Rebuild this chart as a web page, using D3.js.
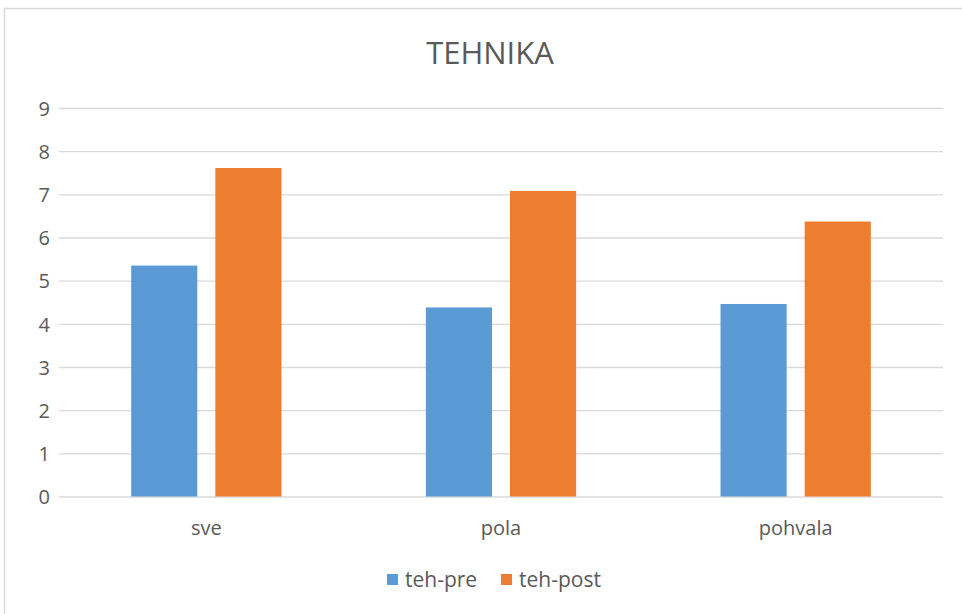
<!DOCTYPE html>
<html>
<head>
<meta charset="utf-8">
<script src="https://cdn.jsdelivr.net/npm/d3@7"></script>
<style>
  body { margin: 0; background: #fff; }
  svg text { font-family: "Open Sans", sans-serif; fill: #595959; }
</style>
</head>
<body>
<main></main>
<script>
const w = 962;
const h = 614;

const categories = ["sve", "pola", "pohvala"];
const series = ["teh-pre", "teh-post"];
const tehPre = [5.35, 4.38, 4.46];
const tehPost = [7.61, 7.08, 6.37];
const yTicks = [0, 1, 2, 3, 4, 5, 6, 7, 8, 9];
const colors = ["#5b9bd5", "#ed7d31"];

const rows = categories.map((c, i) => ({ cat: c, vals: [tehPre[i], tehPost[i]] }));

const plot = { left: 59, right: 943, top: 108, bottom: 496.5 };

const svg = d3
  .select("main")
  .append("svg")
  .attr("width", w)
  .attr("height", h);

// chart frame
svg
  .append("path")
  .attr("d", `M4.5,${h} V8.5 H${w}`)
  .attr("fill", "none")
  .attr("stroke", "#d9d9d9")
  .attr("stroke-width", 1.5);

const y = d3.scaleLinear().domain([0, 9]).range([plot.bottom, plot.top]);

const x0 = d3
  .scaleBand()
  .domain(categories)
  .range([plot.left, plot.right])
  .paddingInner(0.49)
  .paddingOuter(0.245);

const x1 = d3
  .scaleBand()
  .domain(series)
  .range([0, x0.bandwidth()])
  .paddingInner(0.214);

// gridlines + y labels
const yAxis = svg
  .append("g")
  .attr("transform", `translate(${plot.left}, 0)`)
  .call(
    d3
      .axisLeft(y)
      .tickValues(yTicks)
      .tickSize(-(plot.right - plot.left))
      .tickPadding(9)
  );
yAxis.select(".domain").remove();
yAxis.selectAll("line").attr("stroke", "#d9d9d9").attr("stroke-width", 1.3);
yAxis
  .selectAll("text")
  .attr("font-family", null)
  .style("font-size", "20px")
  .attr("dy", "0.36em")
  .attr("fill", "#595959");

// bars
svg
  .append("g")
  .selectAll("g")
  .data(rows)
  .join("g")
  .attr("transform", (d) => `translate(${x0(d.cat)}, 0)`)
  .selectAll("rect")
  .data((d) => d.vals.map((v, i) => ({ key: series[i], v, i })))
  .join("rect")
  .attr("x", (d) => x1(d.key))
  .attr("width", x1.bandwidth())
  .attr("y", (d) => y(d.v))
  .attr("height", (d) => y(0) - y(d.v))
  .attr("fill", (d) => colors[d.i]);

// category labels
svg
  .append("g")
  .selectAll("text")
  .data(categories)
  .join("text")
  .attr("x", (d) => x0(d) + x0.bandwidth() / 2)
  .attr("y", 535)
  .attr("text-anchor", "middle")
  .style("font-size", "20px")
  .text((d) => d);

// title
svg
  .append("text")
  .attr("x", 490)
  .attr("y", 64)
  .attr("text-anchor", "middle")
  .style("font-size", "31px")
  .text("TEHNIKA");

// legend
const legend = svg
  .append("g")
  .selectAll("g")
  .data(series)
  .join("g")
  .attr("transform", (d, i) => `translate(${i === 0 ? 387 : 501}, 574)`);

legend
  .append("rect")
  .attr("width", 11)
  .attr("height", 11)
  .attr("fill", (d, i) => colors[i]);

legend
  .append("text")
  .attr("x", 18)
  .attr("y", 13)
  .style("font-size", "21px")
  .text((d) => d);
</script>
</body>
</html>
